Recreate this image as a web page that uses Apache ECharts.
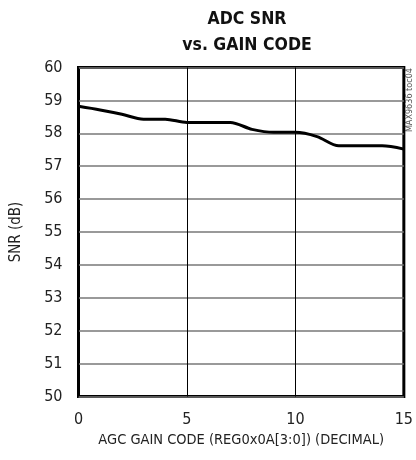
<!DOCTYPE html>
<html><head><meta charset="utf-8">
<script src="https://cdn.jsdelivr.net/npm/echarts@6/dist/echarts.min.js"></script>
<style>html,body{margin:0;padding:0;background:#fff}#c{width:416px;height:460px}</style>
</head><body><div id="c"></div>
<script>
var gainCodes = [0,1,2,3,4,5,6,7,8,9,10,11,12,13,14,15];
var snrValues = [58.82,58.71,58.58,58.43,58.43,58.33,58.33,58.33,58.12,58.03,58.03,57.9,57.62,57.62,57.62,57.52];
var xTicks = [0,5,10,15];
var yTicks = [50,51,52,53,54,55,56,57,58,59,60];
var FONT = '"Liberation Sans Narrow", "DejaVu Sans Condensed", "Liberation Sans", sans-serif';
var chart = echarts.init(document.getElementById('c'));
chart.setOption({
  animation:false,
  title:{text:'ADC SNR\nvs. GAIN CODE', left:242, top:1, textAlign:'center',
    textStyle:{fontFamily:FONT, fontWeight:'bold', fontSize:17.5, lineHeight:26, color:'#111'}},
  grid:{left:78.5, top:67.5, width:328, height:329, show:true, borderColor:'#000', borderWidth:3, backgroundColor:'transparent'},
  xAxis:{type:'value', min:xTicks[0], max:xTicks[xTicks.length-1], interval:5,
    name:'AGC GAIN CODE (REG0x0A[3:0]) (DECIMAL)', nameLocation:'middle', nameGap:32,
    nameTextStyle:{fontFamily:FONT, fontSize:14.5, color:'#222'},
    axisLine:{show:false}, axisTick:{show:false},
    axisLabel:{fontFamily:FONT, fontSize:16, color:'#222', margin:15},
    splitLine:{show:true, lineStyle:{color:'#000', width:1}}},
  yAxis:{type:'value', min:yTicks[0], max:yTicks[yTicks.length-1], interval:1,
    name:'SNR (dB)', nameLocation:'middle', nameGap:55,
    nameTextStyle:{fontFamily:FONT, fontSize:15, color:'#222'},
    axisLine:{show:false}, axisTick:{show:false},
    axisLabel:{fontFamily:FONT, fontSize:16, color:'#222', margin:16},
    splitLine:{show:true, lineStyle:{color:'#777', width:1.5}}},
  graphic:[{type:'text', left:405, top:68, rotation:Math.PI/2,
    style:{text:'MAX9636 toc04', font:'9px ' + FONT, fill:'#555'}}],
  series:[{type:'line', data:gainCodes.map(function(c,i){return [c, snrValues[i]];}),
    smooth:0.3, symbol:'none', lineStyle:{color:'#000', width:3}}]
});
</script></body></html>
